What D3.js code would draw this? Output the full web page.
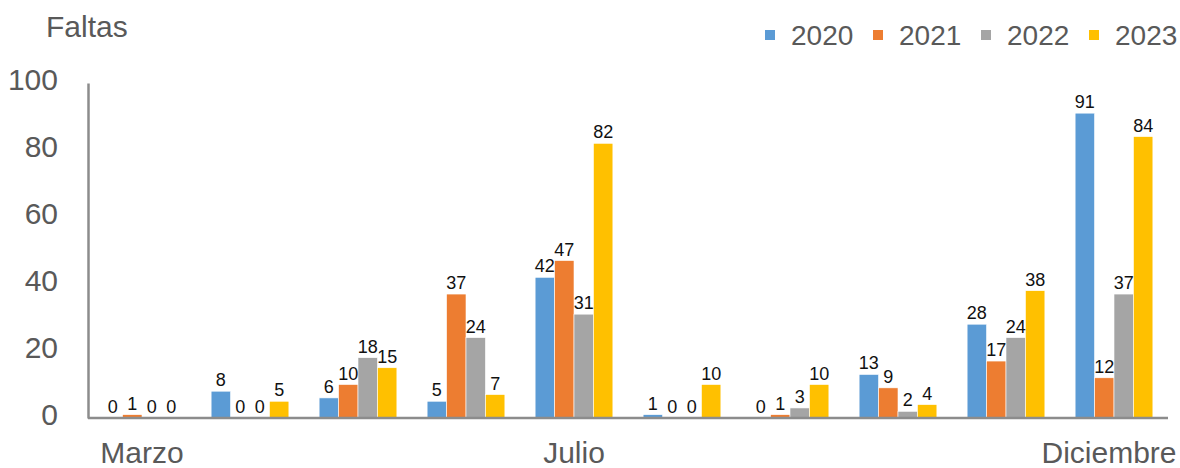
<!DOCTYPE html>
<html>
<head>
    <meta charset="utf-8">
    <title>Faltas</title>
    <script src="https://cdn.jsdelivr.net/npm/d3@7"></script>
    <style>
        body { margin: 0; background: #fff; }
        text { font-family: "Liberation Sans", Arial, sans-serif; }
    </style>
</head>
<body>
    <svg width="1180" height="468" id="mainsvg"></svg>
    <script>
        // data
        const months = ['Marzo', 'Abril', 'Mayo', 'Junio', 'Julio', 'Agosto', 'Septiembre', 'Octubre', 'Noviembre', 'Diciembre'];
        const monthLabels = ['Marzo', '', '', '', 'Julio', '', '', '', '', 'Diciembre'];
        const years = ['2020', '2021', '2022', '2023'];
        const v2020 = [0, 8, 6, 5, 42, 1, 0, 13, 28, 91];
        const v2021 = [1, 0, 10, 37, 47, 0, 1, 9, 17, 12];
        const v2022 = [0, 0, 18, 24, 31, 0, 3, 2, 24, 37];
        const v2023 = [0, 5, 15, 7, 82, 10, 10, 4, 38, 84];
        const yTicks = [0, 20, 40, 60, 80, 100];
        const colors = ['#5B9BD5', '#ED7D31', '#A5A5A5', '#FFC000'];

        const series = [v2020, v2021, v2022, v2023];
        const rows = [];
        months.forEach((m, i) => {
            years.forEach((yr, k) => rows.push({ month: m, year: yr, value: series[k][i] }));
        });

        const svg = d3.select('#mainsvg');
        const margin = { left: 88, right: 1168, top: 83, bottom: 418 };

        const x0 = d3.scaleBand().domain(months).range([margin.left, margin.right]).paddingInner(0.28).paddingOuter(0.14);
        const x1 = d3.scaleBand().domain(years).range([0, x0.bandwidth()]);
        const y = d3.scaleLinear().domain([0, 100]).range([margin.bottom, margin.top]);

        // bars
        svg.append('g').selectAll('rect').data(rows.filter(d => d.value > 0))
            .enter().append('rect')
            .attr('x', d => x0(d.month) + x1(d.year))
            .attr('y', d => y(d.value))
            .attr('width', x1.bandwidth())
            .attr('height', d => y(0) - y(d.value))
            .attr('fill', d => colors[years.indexOf(d.year)])
            .attr('stroke', '#fff')
            .attr('stroke-width', 0.6);

        // value labels
        svg.append('g').selectAll('text').data(rows)
            .enter().append('text')
            .attr('x', d => x0(d.month) + x1(d.year) + x1.bandwidth() / 2)
            .attr('y', d => y(d.value) - 5)
            .attr('text-anchor', 'middle')
            .attr('font-size', 18)
            .attr('fill', '#111')
            .text(d => d.value);

        // y axis
        const yAxis = svg.append('g')
            .attr('transform', `translate(${margin.left},0)`)
            .call(d3.axisLeft(y).tickValues(yTicks).tickSize(0).tickPadding(30));
        yAxis.select('.domain').attr('stroke', '#8c8c8c').attr('stroke-width', 2.5);
        yAxis.selectAll('text')
            .attr('font-size', 30)
            .attr('fill', '#595959')
            .attr('font-family', '"Liberation Sans", Arial, sans-serif')
            .attr('dy', '0.22em');

        // x axis
        const xAxis = svg.append('g')
            .attr('transform', `translate(0,${margin.bottom})`)
            .call(d3.axisBottom(x0).tickSize(0).tickPadding(24).tickFormat((d, i) => monthLabels[i]));
        xAxis.select('.domain').attr('stroke', '#8c8c8c').attr('stroke-width', 2.5)
            .attr('d', `M${margin.left},0H${margin.right}`);
        xAxis.selectAll('text')
            .attr('font-size', 30)
            .attr('fill', '#595959')
            .attr('font-family', '"Liberation Sans", Arial, sans-serif')
            .attr('dx', (d, i) => i === months.length - 1 ? -5 : 0);

        // axis title
        svg.append('text')
            .attr('x', 46).attr('y', 37)
            .attr('font-size', 30)
            .attr('fill', '#595959')
            .text('Faltas');

        // legend
        const legend = svg.append('g').selectAll('g').data(years)
            .enter().append('g')
            .attr('transform', (d, i) => `translate(${765 + i * 108},0)`);
        legend.append('rect')
            .attr('x', 0).attr('y', 30)
            .attr('width', 10).attr('height', 10)
            .attr('fill', (d, i) => colors[i]);
        legend.append('text')
            .attr('x', 26).attr('y', 45)
            .attr('font-size', 28)
            .attr('fill', '#595959')
            .text(d => d);
    </script>
</body>
</html>
